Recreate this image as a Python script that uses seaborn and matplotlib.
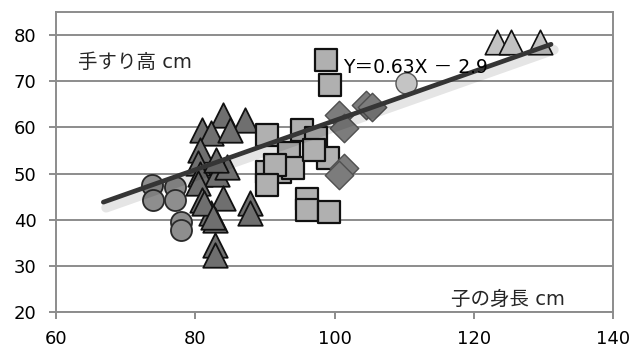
import numpy as np
import pandas as pd
import matplotlib
matplotlib.use('Agg')
import matplotlib.pyplot as plt
import matplotlib.patheffects as pe
import seaborn as sns

# values (child height cm, handrail height cm)
tri_x = [84.0, 87.2, 81.0, 82.2, 85.0, 80.7, 80.4, 80.7, 83.1, 80.4, 81.0, 84.0,
         87.9, 87.9, 82.2, 82.9, 82.9, 82.9, 81.2, 82.6, 84.5, 83.0]
tri_y = [62.6, 61.6, 59.4, 58.7, 59.4, 55.0, 52.2, 50.0, 50.0, 47.9, 44.2, 44.7,
         43.6, 41.4, 41.4, 40.0, 34.5, 32.3, 43.6, 40.6, 51.5, 53.0]
tri_hi_x = [123.4, 125.3, 129.5]
tri_hi_y = [78.5, 78.5, 78.5]

sq_x = [98.8, 99.3, 90.3, 95.4, 97.3, 93.4, 99.1, 90.3, 92.2, 94.1, 91.5, 90.3,
        96.1, 96.1, 99.2, 97.0]
sq_y = [74.5, 69.1, 58.3, 59.4, 57.6, 54.4, 53.3, 50.4, 50.4, 51.2, 51.8, 47.5,
        44.5, 42.1, 41.7, 55.0]

dia_x = [100.6, 101.3, 104.5, 105.4, 101.3, 100.6]
dia_y = [62.6, 59.8, 64.8, 64.4, 51.1, 49.7]

circ_x = [73.8, 74.0, 77.1, 77.1, 77.9, 77.9]
circ_y = [47.5, 44.2, 47.1, 44.2, 39.5, 37.7]
circ_hi_x = [110.2]
circ_hi_y = [69.6]

trend_x = [66.8, 131.1]
trend_y = [43.8, 78.0]

fig = plt.figure(figsize=(6.35, 3.51), dpi=100)
ax = fig.add_axes([56 / 635, 39 / 351, 557 / 635, 300 / 351])
sns.set_style('white')
plt.rcParams['font.family'] = ['DejaVu Sans', 'Noto Sans CJK JP']

grid_c = '#8c8c8c'
for v in [20, 30, 40, 50, 60, 70, 80]:
    ax.axhline(v, color=grid_c, lw=1.4, zorder=0)

sns.scatterplot(x=circ_x, y=circ_y, marker='o', s=230, color='#8e8e8e',
                edgecolor='#2a2a2a', linewidth=1.3, ax=ax, zorder=3)
sns.scatterplot(x=circ_hi_x, y=circ_hi_y, marker='o', s=230, color='#c4c4c4',
                edgecolor='#555555', linewidth=1.0, ax=ax, zorder=3)
sns.scatterplot(x=tri_x, y=tri_y, marker='^', s=310, color='#6f6f6f',
                edgecolor='#111111', linewidth=1.3, ax=ax, zorder=3)
sns.scatterplot(x=tri_hi_x, y=tri_hi_y, marker='^', s=310, color='#c2c2c2',
                edgecolor='#111111', linewidth=1.2, ax=ax, zorder=3)
sns.scatterplot(x=sq_x, y=sq_y, marker='s', s=250, color='#b0b0b0',
                edgecolor='#111111', linewidth=1.6, ax=ax, zorder=3)
sns.scatterplot(x=dia_x, y=dia_y, marker='D', s=210, color='#7c7c7c',
                edgecolor='#505050', linewidth=1.0, ax=ax, zorder=3)

sns.lineplot(x=trend_x, y=trend_y, color='#353535', lw=3.4, ax=ax, zorder=4,
             path_effects=[pe.SimpleLineShadow(offset=(2, -4), shadow_color='#000000',
                                               alpha=0.10, linewidth=7),
                           pe.Normal()])

ax.text(101.3, 73.0, 'Y＝0.63X － 2.9', fontsize=13.5, color='black',
        va='center', ha='left', zorder=5)
ax.text(63.2, 74.0, '手すり高 cm', fontsize=14, va='center', ha='left')
ax.text(116.7, 22.8, '子の身長 cm', fontsize=14, va='center', ha='left')

ax.set_xlim(60, 140)
ax.set_ylim(20, 85)
ax.set_xticks([60, 80, 100, 120, 140])
ax.set_yticks([20, 30, 40, 50, 60, 70, 80])
ax.tick_params(axis='both', direction='out', length=5, width=1.4, color=grid_c,
               labelsize=13, pad=8)
ax.tick_params(axis='y', pad=9)
for side in ['left', 'right', 'top', 'bottom']:
    ax.spines[side].set_visible(True)
    ax.spines[side].set_color(grid_c)
    ax.spines[side].set_linewidth(1.4)
ax.set_xlabel('')
ax.set_ylabel('')

fig.savefig('out.png', dpi=100)
